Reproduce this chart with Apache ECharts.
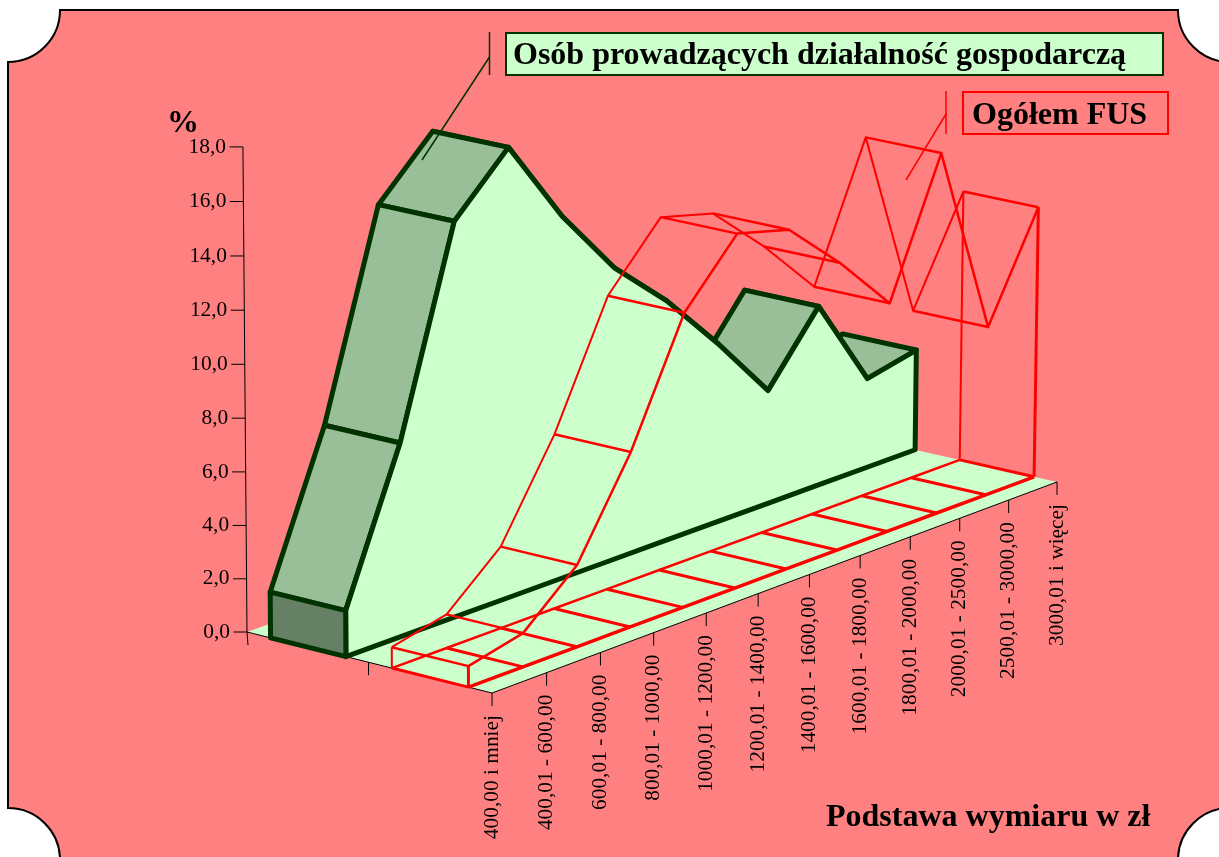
<!DOCTYPE html>
<html>
<head>
<meta charset="utf-8">
<style>
  html, body { margin: 0; padding: 0; background: #fff; }
  #chart { width: 1219px; height: 857px; }
</style>
<script src="https://cdn.jsdelivr.net/npm/echarts@6/dist/echarts.min.js"></script>
</head>
<body>
<div id="chart"></div>
<script>
const categories = ['400,00 i mniej', '400,01 - 600,00', '600,01 - 800,00', '800,01 - 1000,00', '1000,01 - 1200,00', '1200,01 - 1400,00', '1400,01 - 1600,00', '1600,01 - 1800,00', '1800,01 - 2000,00', '2000,01 - 2500,00', '2500,01 - 3000,00', '3000,01 i więcej']
const dzialalnosc = [1.72, 7.25, 14.8, 16.9, 13.7, 11.1, 9.2, 6.9, 4.4, 7.0, 3.5, 3.95]
const ogolem = [0.78, 1.26, 3.07, 6.58, 11.1, 13.4, 12.9, 11.0, 8.8, 13.9, 6.55, 10.55]
const yTicks = [0, 2, 4, 6, 8, 10, 12, 14, 16, 18]

const font = '"Liberation Serif", "Times New Roman", serif'
const FLOOR = '#CCFFCC'
const DARK = '#003300'
const RED = '#FF0000'
const last = categories.length - 1

// hidden grid: 100px per category, 30px per unit of the value axis
const GRID_H = 540

// perspective camera fitted on the floor corners
function project(api, i, v, d) {
  const p = api.coord([i, v])
  const ci = p[0] / 100
  const cv = (GRID_H - p[1]) / 30
  const w = 1 + 0.00612 * ci - 0.00798 * d - 0.00082 * cv
  return [
    (247 + 57.01 * ci + 118.6 * d - 0.4245 * cv) / w,
    (632 - 15.93 * ci + 24.98 * d - 27.07 * cv) / w
  ]
}

function poly(points, fill, stroke, width) {
  return {
    type: 'polygon',
    shape: { points },
    style: { fill, stroke, lineWidth: width, lineJoin: 'round' }
  }
}

function line(points, width, color) {
  return {
    type: 'polyline',
    shape: { points },
    style: { fill: null, stroke: color, lineWidth: width, lineJoin: 'round' }
  }
}

function label(text, x, y, opts) {
  return {
    type: 'text',
    x,
    y,
    rotation: opts.rotation || 0,
    style: {
      text,
      fill: '#000',
      font: '21.4px ' + font,
      textAlign: opts.align,
      textVerticalAlign: 'middle'
    }
  }
}

function renderFrame(params) {
  if (params.dataIndex !== 0) return null
  return {
    type: 'path',
    shape: {
      pathData: 'M60 10 L1178 10 A52 52 0 0 0 1230 62 L1230 808 A52 52 0 0 0 1178 860 L60 860 A52 52 0 0 0 8 808 L8 62 A52 52 0 0 0 60 10 Z',
      x: 8,
      y: 10,
      width: 1222,
      height: 850
    },
    style: { fill: '#FF8080', stroke: '#000', lineWidth: 2 }
  }
}

function renderFloor(params, api) {
  if (params.dataIndex !== 0) return null
  const a = project(api, 0, 0, 0)
  const b = project(api, 0, 0, 2)
  const c = project(api, last, 0, 2)
  const e = project(api, last, 0, 0)
  const children = [
    poly([a, b, c, e], FLOOR, null, 0),
    line([a, b, c], 1, '#000')
  ]
  // ticks on the floor edges
  children.push(line([a, [a[0] + 1, a[1] + 13]], 1, '#000'))
  const mid = project(api, 0, 0, 1)
  children.push(line([mid, [mid[0], mid[1] + 13]], 1, '#000'))
  categories.forEach((name, i) => {
    const t = project(api, i, 0, 2)
    children.push(line([t, [t[0], t[1] + 13]], 1, '#000'))
    children.push(label(name, t[0], t[1] + 22, { align: 'right', rotation: Math.PI / 2 }))
  })
  return { type: 'group', children }
}

function renderYAxis(params, api) {
  if (params.dataIndex !== 0) return null
  const children = [line([project(api, 0, yTicks[yTicks.length - 1], 0), project(api, 0, 0, 0)], 1, '#000')]
  yTicks.forEach((t) => {
    const p = project(api, 0, t, 0)
    children.push(line([[p[0] - 13.5, p[1]], p], 1, '#000'))
    children.push(label(t.toFixed(1).replace('.', ','), p[0] - 17, p[1], { align: 'right' }))
  })
  return { type: 'group', children }
}

function renderDzialalnosc(params, api) {
  if (params.dataIndex !== 0) return null
  const back = 0.195
  const front = 0.815
  const children = []
  // top strips, far ones first
  for (let i = last - 1; i >= 0; i--) {
    children.push(poly([
      project(api, i, dzialalnosc[i], back),
      project(api, i + 1, dzialalnosc[i + 1], back),
      project(api, i + 1, dzialalnosc[i + 1], front),
      project(api, i, dzialalnosc[i], front)
    ], '#99BF99', DARK, 5))
  }
  const top = dzialalnosc.map((v, i) => project(api, i, v, front))
  const base = dzialalnosc.map((v, i) => project(api, i, 0, front)).reverse()
  children.push(poly(top.concat(base), FLOOR, DARK, 5))
  children.push(poly([
    project(api, 0, dzialalnosc[0], back),
    project(api, 0, dzialalnosc[0], front),
    project(api, 0, 0, front),
    project(api, 0, 0, back)
  ], '#668066', DARK, 5))
  return { type: 'group', children }
}

function renderOgolem(params, api) {
  if (params.dataIndex !== 0) return null
  const back = 1.19
  const front = 1.81
  const children = []
  ogolem.forEach((v, i) => {
    children.push(line([project(api, i, 0, back), project(api, i, 0, front)], 3, RED))
    children.push(line([project(api, i, v, back), project(api, i, v, front)], 2.5, RED))
  })
  children.push(line(ogolem.map((v, i) => project(api, i, 0, back)), 2.5, RED))
  children.push(line(ogolem.map((v, i) => project(api, i, 0, front)), 3.5, RED))
  children.push(line(ogolem.map((v, i) => project(api, i, v, back)), 2, RED))
  children.push(line(ogolem.map((v, i) => project(api, i, v, front)), 2.5, RED))
  ;[0, last].forEach((i) => {
    children.push(line([project(api, i, 0, back), project(api, i, ogolem[i], back)], 2, RED))
    children.push(line([project(api, i, 0, front), project(api, i, ogolem[i], front)], 3, RED))
  })
  return { type: 'group', children }
}

function customSeries(renderItem, z) {
  return {
    type: 'custom',
    coordinateSystem: 'cartesian2d',
    renderItem,
    z,
    silent: true,
    animation: false,
    data: categories.map((c, i) => [i, 0])
  }
}

const titleStyle = { fill: '#000', font: 'bold 32px ' + font, textVerticalAlign: 'middle' }

const chart = echarts.init(document.getElementById('chart'), null, { renderer: 'canvas' })
chart.setOption({
  animation: false,
  backgroundColor: '#fff',
  grid: { left: 0, top: 0, width: 1100, height: GRID_H },
  xAxis: { type: 'value', min: 0, max: last, show: false },
  yAxis: { type: 'value', min: 0, max: 18, show: false },
  graphic: [
    { type: 'line', z: 10, shape: { x1: 489.5, y1: 32, x2: 489.5, y2: 75 }, style: { stroke: DARK, lineWidth: 1.5 } },
    { type: 'line', z: 10, shape: { x1: 489.5, y1: 57, x2: 422, y2: 160 }, style: { stroke: DARK, lineWidth: 1.5 } },
    { type: 'rect', z: 10, shape: { x: 506, y: 33, width: 657, height: 42 }, style: { fill: FLOOR, stroke: DARK, lineWidth: 2 } },
    { type: 'text', z: 11, x: 513, y: 56, style: Object.assign({ text: 'Osób prowadzących działalność gospodarczą' }, titleStyle) },
    { type: 'line', z: 10, shape: { x1: 946, y1: 91, x2: 946, y2: 134 }, style: { stroke: RED, lineWidth: 1.5 } },
    { type: 'line', z: 10, shape: { x1: 946, y1: 114, x2: 906, y2: 180 }, style: { stroke: RED, lineWidth: 1.5 } },
    { type: 'rect', z: 10, shape: { x: 963, y: 92, width: 205, height: 42 }, style: { fill: 'none', stroke: RED, lineWidth: 2 } },
    { type: 'text', z: 11, x: 972, y: 116, style: Object.assign({ text: 'Ogółem FUS' }, titleStyle) },
    { type: 'text', z: 11, x: 167, y: 124, style: Object.assign({ text: '%' }, titleStyle) },
    { type: 'text', z: 11, x: 826, y: 818, style: Object.assign({ text: 'Podstawa wymiaru w zł' }, titleStyle) }
  ],
  series: [
    customSeries(renderFrame, 1),
    customSeries(renderFloor, 2),
    customSeries(renderYAxis, 3),
    customSeries(renderDzialalnosc, 4),
    customSeries(renderOgolem, 5)
  ]
})
</script>
</body>
</html>
